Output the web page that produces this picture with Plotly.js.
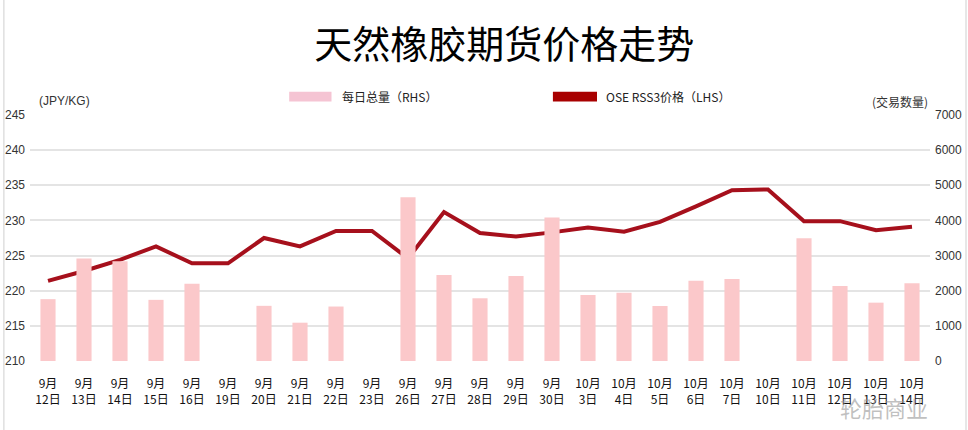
<!DOCTYPE html>
<html><head><meta charset="utf-8">
<script src="https://cdn.plot.ly/plotly-3.0.1.min.js"></script>
<style>html,body{margin:0;padding:0;background:#fff;}#chart{width:968px;height:430px;}</style>
</head><body><div id="chart"></div>
<script>
const categories = ["9月<br>12日","9月<br>13日","9月<br>14日","9月<br>15日","9月<br>16日","9月<br>19日","9月<br>20日","9月<br>21日","9月<br>22日","9月<br>23日","9月<br>26日","9月<br>27日","9月<br>28日","9月<br>29日","9月<br>30日","10月<br>3日","10月<br>4日","10月<br>5日","10月<br>6日","10月<br>7日","10月<br>10日","10月<br>11日","10月<br>12日","10月<br>13日","10月<br>14日"];
const volume = [1760,2920,2840,1740,2195,0,1570,1090,1550,0,4660,2450,1785,2420,4080,1880,1945,1565,2280,2335,0,3495,2135,1660,2210];
const price = [221.4,222.8,224.4,226.3,223.9,223.9,227.5,226.3,228.5,228.5,224.6,231.2,228.2,227.7,228.3,229.0,228.4,229.8,232.0,234.3,234.4,229.9,229.9,228.6,229.1];
const leftTicks = [210,215,220,225,230,235,240,245];
const rightTicks = [0,1000,2000,3000,4000,5000,6000,7000];

const sans = 'Arial, "Liberation Sans", "Noto Sans CJK SC", sans-serif';
const cjk = '"Noto Sans CJK SC", sans-serif';

const traces = [
  {type:'bar', x:categories, y:volume, yaxis:'y2', name:'每日总量（RHS）',
   marker:{color:'#fbc8ca'}, showlegend:false},
  {type:'scatter', mode:'lines', x:categories, y:price, yaxis:'y', name:'OSE RSS3价格（LHS）',
   line:{color:'#a6101c', width:4}, showlegend:false}
];

const layout = {
  width:968, height:430,
  margin:{l:30, r:38, t:115, b:69},
  paper_bgcolor:'#fff', plot_bgcolor:'#fff',
  bargap:0.58,
  title:{text:'天然橡胶期货价格走势', x:0.521, xanchor:'center', y:0.895, yanchor:'middle',
         font:{family:cjk, size:38, color:'#000'}},
  xaxis:{type:'category', showgrid:false, zeroline:false, showline:false, ticks:'',
         ticklabelstandoff:14, tickfont:{family:cjk, size:12, color:'#111'}, fixedrange:true},
  yaxis:{range:[210,245], tickvals:leftTicks, showgrid:true, gridcolor:'#e4e4e4', gridwidth:2,
         zeroline:false, showline:false, ticks:'', ticklabelstandoff:4,
         tickfont:{family:sans, size:12, color:'#333'}},
  yaxis2:{range:[0,7000], tickvals:rightTicks, overlaying:'y', side:'right', showgrid:false,
         zeroline:false, showline:false, ticks:'', ticklabelstandoff:4,
         tickfont:{family:sans, size:12, color:'#333'}},
  shapes:[
    {type:'rect', xref:'paper', yref:'paper', x0:0.288, x1:0.335, y0:1.055, y1:1.095,
     fillcolor:'#f5c4d3', line:{width:0}},
    {type:'rect', xref:'paper', yref:'paper', x0:0.581, x1:0.63, y0:1.055, y1:1.095,
     fillcolor:'#a80000', line:{width:0}},
    {type:'line', xref:'paper', yref:'paper', x0:-0.029, x1:-0.029, y0:-0.3, y1:1.47,
     line:{color:'#cfcfcf', width:1}},
    {type:'line', xref:'paper', yref:'paper', x0:1.04, x1:1.04, y0:-0.3, y1:1.47,
     line:{color:'#cfcfcf', width:1}}
  ],
  annotations:[
    {text:'每日总量（RHS）', xref:'paper', yref:'paper', x:0.344, y:1.075, xanchor:'left', yanchor:'middle',
     showarrow:false, font:{family:cjk, size:12, color:'#222'}},
    {text:'OSE RSS3价格（LHS）', xref:'paper', yref:'paper', x:0.638, y:1.075, xanchor:'left', yanchor:'middle',
     showarrow:false, font:{family:cjk, size:12, color:'#222'}},
    {text:'(JPY/KG)', xref:'paper', yref:'paper', x:0.008, y:1.055, xanchor:'left', yanchor:'middle',
     showarrow:false, font:{family:sans, size:12, color:'#333'}},
    {text:'(交易数量)', xref:'paper', yref:'paper', x:1.0, y:1.055, xanchor:'right', yanchor:'middle',
     showarrow:false, font:{family:cjk, size:12, color:'#333'}},
    {text:'轮胎商业', xref:'paper', yref:'paper', x:1.0, y:-0.185, xanchor:'right', yanchor:'middle',
     showarrow:false, font:{family:cjk, size:22, color:'rgba(150,150,150,0.6)'}}
  ]
};

Plotly.newPlot('chart', traces, layout, {displayModeBar:false, staticPlot:true});
</script>
</body></html>
